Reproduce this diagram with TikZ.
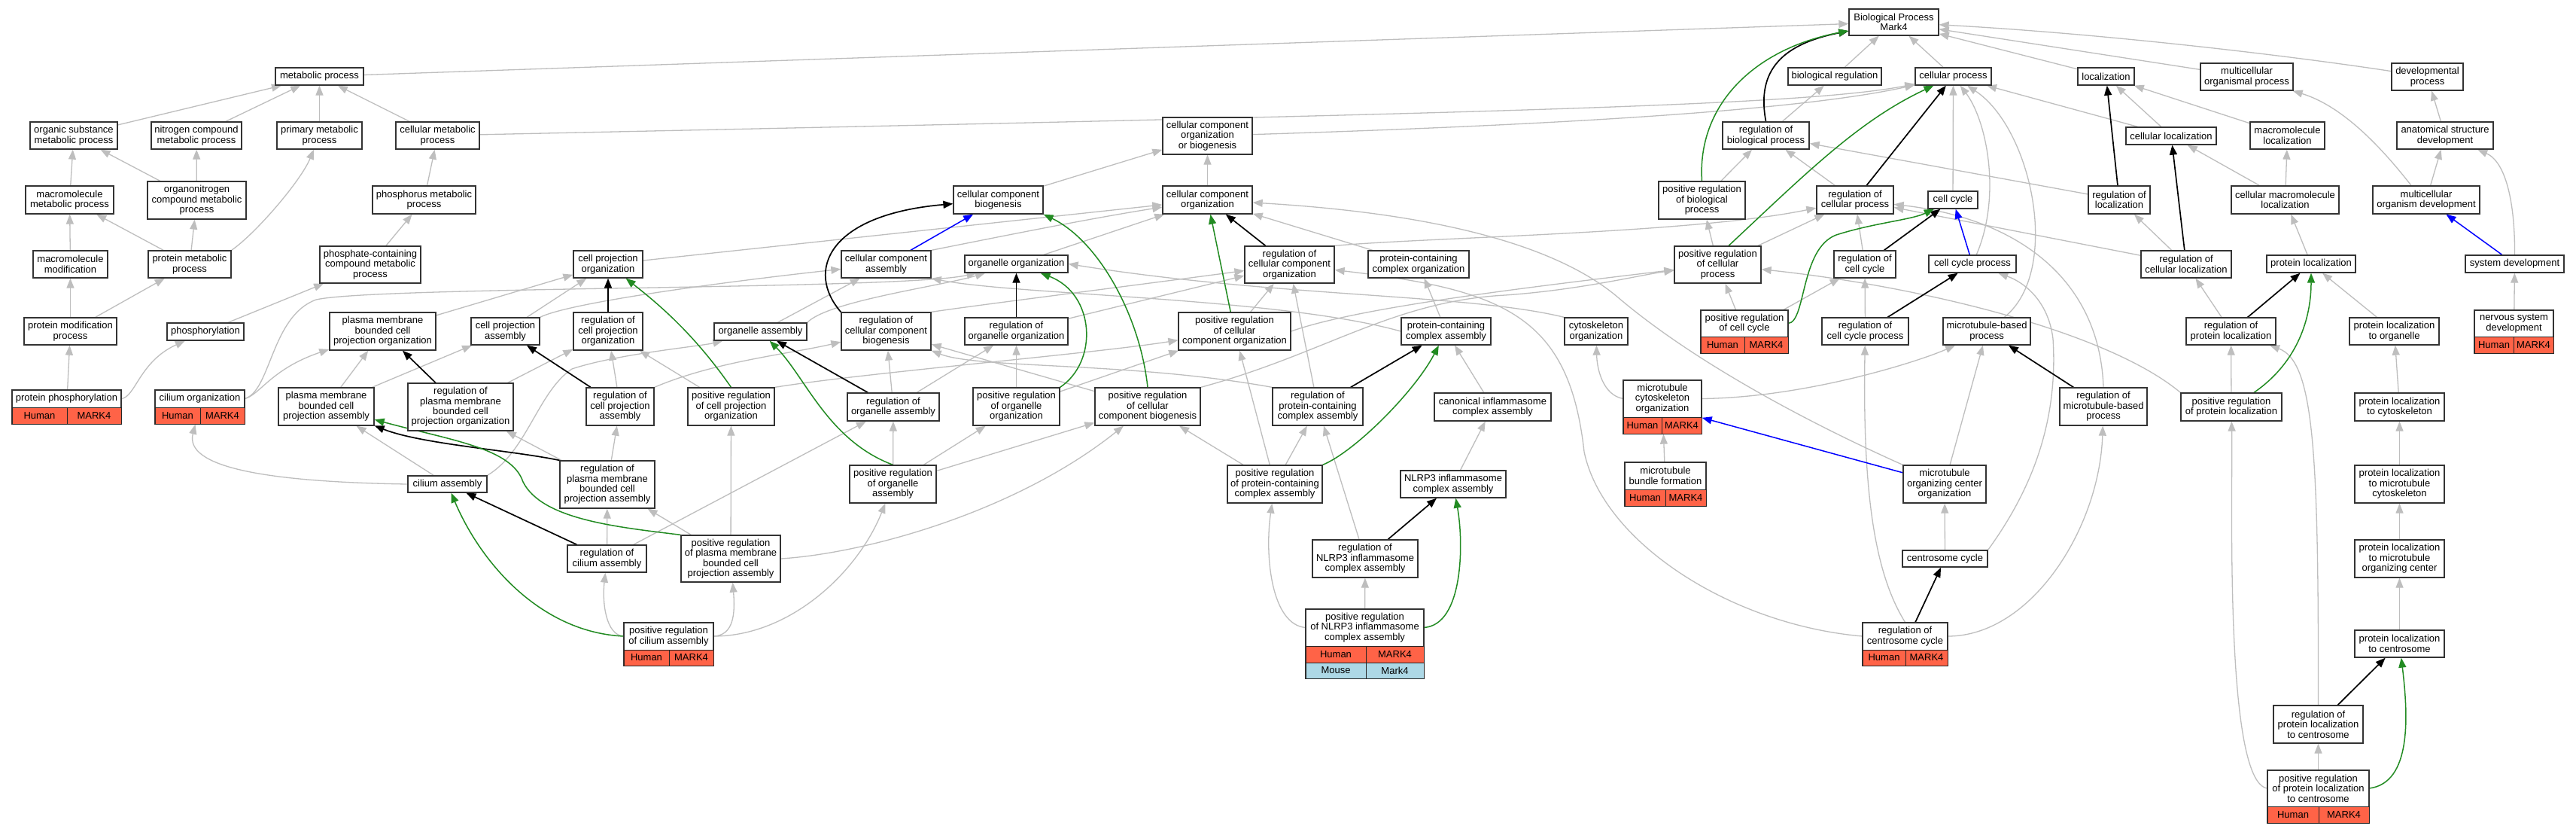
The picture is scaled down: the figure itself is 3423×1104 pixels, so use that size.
\documentclass[tikz,border=0pt]{standalone}
\usepackage{fontspec}
\setmainfont{Liberation Sans}
\usetikzlibrary{arrows.meta}
\pgfdeclarelayer{back}
\pgfdeclarelayer{bg}
\pgfsetlayers{back,bg,main}
\definecolor{isagray}{HTML}{BEBEBE}
\definecolor{posgreen}{HTML}{228B22}
\definecolor{partblue}{HTML}{0000FF}
\definecolor{tomatoc}{HTML}{FF6347}
\definecolor{lbluec}{HTML}{ADD8E6}
\newcommand\gofont{\fontsize{13pt}{13.4pt}\selectfont}
\tikzset{
 gob/.style={draw=black!80, line width=1.3pt, fill=white, inner sep=0pt, align=center, font=\gofont},
 txt/.style={inner sep=0pt, align=center, font=\gofont},
 cellh/.style={draw=black!85, line width=1pt, fill=tomatoc, inner sep=0pt, font=\gofont},
 cellm/.style={draw=black!85, line width=1pt, fill=lbluec, inner sep=0pt, font=\gofont},
 goedge/.style={line width=1.3pt, -{Triangle[length=13pt,width=10pt]}},
 isa/.style={goedge, draw=isagray},
 regedge/.style={goedge, draw=black, line width=1.7pt},
 posedge/.style={goedge, draw=posgreen, line width=1.5pt},
 partedge/.style={goedge, draw=partblue, line width=1.5pt},
}
% name, x1, y1, x2, y2, text
\newcommand\gn[6]{\node[gob, minimum width={#4-#2}, minimum height={#5-#3}] (#1) at ({(#2+#4)/2},{(#3+#5)/2}) {#6};}
% name, x1, y1, x2, ysplit, y2, xsplit, text
\newcommand\sn[8]{%
 \node[gob, minimum width={#4-#2}, minimum height={#6-#3}] (#1) at ({(#2+#4)/2},{(#3+#6)/2}) {};
 \node[txt] (#1-t) at ({(#2+#4)/2},{(#3+#5)/2}) {#8};
 \node[cellh, minimum width={#7-#2}, minimum height={#6-#5}] (#1-h) at ({(#2+#7)/2},{(#5+#6)/2}) {Human};
 \node[cellh, minimum width={#4-#7}, minimum height={#6-#5}] (#1-m) at ({(#7+#4)/2},{(#5+#6)/2}) {MARK4};
 \coordinate (#1-l) at (#2,{(#3+#5)/2});
 \coordinate (#1-r) at (#4,{(#3+#5)/2});
}
\begin{document}
\begin{tikzpicture}[x=1pt,y=-1pt]
\useasboundingbox (0,0) rectangle (3423,1104);
\begin{pgfonlayer}{back}
\fill[white] (0,0) rectangle (3423,1104);
\end{pgfonlayer}
% ---------------- nodes ----------------
\gn{BP}{2457}{12}{2576}{47}{Biological Process\\Mark4}
\gn{met}{366}{90}{483}{113}{metabolic process}
\gn{bioreg}{2376}{90}{2500}{113}{biological regulation}
\gn{cellp}{2545}{90}{2646}{113}{cellular process}
\gn{loc}{2761}{90}{2836}{113}{localization}
\gn{mop}{2924}{84}{3047}{120}{multicellular\\organismal process}
\gn{devp}{3178}{84}{3273}{120}{developmental\\process}
\gn{osmp}{40}{162}{156}{198}{organic substance\\metabolic process}
\gn{ncmp}{201}{162}{321}{198}{nitrogen compound\\metabolic process}
\gn{pmp}{368}{162}{481}{198}{primary metabolic\\process}
\gn{cmp}{526}{162}{637}{198}{cellular metabolic\\process}
\gn{ccob}{1545}{156}{1664}{205}{cellular component\\organization\\or biogenesis}
\gn{regbp}{2289}{162}{2404}{198}{regulation of\\biological process}
\gn{celloc}{2825}{169}{2945}{192}{cellular localization}
\gn{mloc}{2990}{162}{3089}{198}{macromolecule\\localization}
\gn{asd}{3185}{162}{3313}{198}{anatomical structure\\development}
\gn{mmp}{34}{247}{151}{284}{macromolecule\\metabolic process}
\gn{oncmp}{196}{241}{327}{291}{organonitrogen\\compound metabolic\\process}
\gn{phmp}{495}{247}{632}{284}{phosphorus metabolic\\process}
\gn{ccb}{1267}{247}{1386}{284}{cellular component\\biogenesis}
\gn{cco}{1545}{247}{1664}{284}{cellular component\\organization}
\gn{posregbp}{2204}{241}{2319}{291}{positive regulation\\of biological\\process}
\gn{regcp}{2414}{247}{2516}{284}{regulation of\\cellular process}
\gn{cc}{2562}{254}{2628}{277}{cell cycle}
\gn{regloc}{2775}{247}{2857}{284}{regulation of\\localization}
\gn{cmloc}{2965}{247}{3108}{284}{cellular macromolecule\\localization}
\gn{mod}{3153}{247}{3295}{284}{multicellular\\organism development}
\gn{mm}{44}{333}{143}{369}{macromolecule\\modification}
\gn{protmp}{197}{333}{307}{369}{protein metabolic\\process}
\gn{phcmp}{425}{327}{559}{376}{phosphate-containing\\compound metabolic\\process}
\gn{cpo}{762}{333}{854}{369}{cell projection\\organization}
\gn{cca}{1118}{333}{1237}{369}{cellular component\\assembly}
\gn{oo}{1282}{339}{1419}{362}{organelle organization}
\gn{regcco}{1654}{327}{1773}{376}{regulation of\\cellular component\\organization}
\gn{pcco}{1818}{333}{1952}{369}{protein-containing\\complex organization}
\gn{posregcp}{2225}{327}{2340}{376}{positive regulation\\of cellular\\process}
\gn{regcc}{2437}{333}{2519}{369}{regulation of\\cell cycle}
\gn{ccp}{2563}{339}{2679}{362}{cell cycle process}
\gn{regcelloc}{2845}{333}{2965}{369}{regulation of\\cellular localization}
\gn{ploc}{3012}{339}{3130}{362}{protein localization}
\gn{sysdev}{3276}{339}{3407}{362}{system development}
\gn{pmod}{32}{422}{155}{458}{protein modification\\process}
\gn{phos}{222}{429}{324}{452}{phosphorylation}
\gn{pmbcpo}{438}{415}{579}{465}{plasma membrane\\bounded cell\\projection organization}
\gn{cpa}{626}{422}{717}{458}{cell projection\\assembly}
\gn{regcpo}{762}{415}{854}{465}{regulation of\\cell projection\\organization}
\gn{oa}{949}{429}{1072}{452}{organelle assembly}
\gn{regccb}{1118}{415}{1237}{465}{regulation of\\cellular component\\biogenesis}
\gn{regoo}{1282}{422}{1419}{458}{regulation of\\organelle organization}
\gn{posregcco}{1566}{415}{1715}{465}{positive regulation\\of cellular\\component organization}
\gn{pcca}{1862}{422}{1981}{458}{protein-containing\\complex assembly}
\gn{cytoo}{2079}{422}{2163}{458}{cytoskeleton\\organization}
\sn{posregcc}{2260}{412}{2376}{447}{469}{2318}{positive regulation\\of cell cycle}
\gn{regccp}{2421}{422}{2536}{458}{regulation of\\cell cycle process}
\gn{mtbp}{2582}{422}{2698}{458}{microtubule-based\\process}
\gn{regploc}{2905}{422}{3024}{458}{regulation of\\protein localization}
\gn{plocorg}{3122}{422}{3241}{458}{protein localization\\to organelle}
\sn{nsd}{3288}{412}{3393}{447}{469}{3340}{nervous system\\development}
\sn{pphos}{16}{518}{161}{541}{563}{89}{protein phosphorylation}
\sn{cilo}{206}{518}{325}{541}{563}{266}{cilium organization}
\gn{pmbcpa}{370}{515}{497}{565}{plasma membrane\\bounded cell\\projection assembly}
\gn{regpmbcpo}{542}{509}{682}{572}{regulation of\\plasma membrane\\bounded cell\\projection organization}
\gn{regcpa}{779}{515}{869}{565}{regulation of\\cell projection\\assembly}
\gn{posregcpo}{914}{515}{1029}{565}{positive regulation\\of cell projection\\organization}
\gn{regoa}{1126}{522}{1248}{559}{regulation of\\organelle assembly}
\gn{posregoo}{1293}{515}{1408}{565}{positive regulation\\of organelle\\organization}
\gn{posregccb}{1455}{515}{1595}{565}{positive regulation\\of cellular\\component biogenesis}
\gn{regpcca}{1691}{515}{1811}{565}{regulation of\\protein-containing\\complex assembly}
\gn{cica}{1906}{522}{2061}{559}{canonical inflammasome\\complex assembly}
\sn{mtco}{2157}{505}{2261}{554}{576}{2208}{microtubule\\cytoskeleton\\organization}
\gn{regmtbp}{2737}{515}{2853}{565}{regulation of\\microtubule-based\\process}
\gn{posregploc}{2898}{522}{3032}{559}{positive regulation\\of protein localization}
\gn{ploccyto}{3129}{522}{3248}{559}{protein localization\\to cytoskeleton}
\gn{cila}{542}{632}{647}{654}{cilium assembly}
\gn{regpmbcpa}{744}{612}{870}{675}{regulation of\\plasma membrane\\bounded cell\\projection assembly}
\gn{posregoa}{1129}{618}{1244}{668}{positive regulation\\of organelle\\assembly}
\gn{posregpcca}{1631}{618}{1757}{668}{positive regulation\\of protein-containing\\complex assembly}
\gn{nlrp3}{1861}{625}{2001}{661}{NLRP3 inflammasome\\complex assembly}
\sn{mtbf}{2159}{614}{2267}{650}{672}{2213}{microtubule\\bundle formation}
\gn{mtoco}{2529}{618}{2639}{668}{microtubule\\organizing center\\organization}
\gn{plocmtc}{3129}{618}{3248}{668}{protein localization\\to microtubule\\cytoskeleton}
\gn{regcila}{754}{724}{859}{760}{regulation of\\cilium assembly}
\gn{posregpmbcpa}{905}{711}{1037}{773}{positive regulation\\of plasma membrane\\bounded cell\\projection assembly}
\gn{regnlrp3}{1744}{717}{1884}{767}{regulation of\\NLRP3 inflammasome\\complex assembly}
\gn{csc}{2528}{731}{2641}{753}{centrosome cycle}
\gn{plocmtoc}{3129}{717}{3248}{767}{protein localization\\to microtubule\\organizing center}
\sn{posregcila}{829}{827}{948}{863}{884}{889}{positive regulation\\of cilium assembly}
\sn{regcsc}{2475}{827}{2588}{863}{884}{2532}{regulation of\\centrosome cycle}
\gn{ploccs}{3129}{837}{3248}{873}{protein localization\\to centrosome}
\gn{regploccs}{3021}{937}{3140}{987}{regulation of\\protein localization\\to centrosome}
\sn{posregploccs}{3013}{1023}{3148}{1071}{1093}{3081}{positive regulation\\of protein localization\\to centrosome}
% two-species node
\node[gob, minimum width=157, minimum height=92] (posregnlrp3) at (1813.5,855) {};
\node[txt] (posregnlrp3-t) at (1813.5,833.5) {positive regulation\\of NLRP3 inflammasome\\complex assembly};
\node[cellh, minimum width=80, minimum height=22] (posregnlrp3-h) at (1775,869) {Human};
\node[cellh, minimum width=77, minimum height=22] (posregnlrp3-m) at (1853.5,869) {MARK4};
\node[cellm, minimum width=80, minimum height=21] (posregnlrp3-hm) at (1775,890.5) {Mouse};
\node[cellm, minimum width=77, minimum height=21] (posregnlrp3-mm) at (1853.5,890.5) {Mark4};
\coordinate (posregnlrp3-l) at (1735,833.5);
\coordinate (posregnlrp3-r) at (1892,833.5);

% ---------------- edges ----------------
\begin{pgfonlayer}{bg}
% metabolic
\draw[isa] (osmp) -- (met);
\draw[isa] (ncmp) -- (met);
\draw[isa] (pmp) -- (met);
\draw[isa] (cmp) -- (met);
\draw[isa] (mmp) -- (osmp);
\draw[isa] (oncmp) -- (osmp);
\draw[isa] (oncmp) -- (ncmp);
\draw[isa] (mm) -- (mmp);
\draw[isa] (protmp) -- (mmp);
\draw[isa] (protmp) -- (oncmp);
\draw[isa] (protmp.north east) .. controls (340,310) and (400,240) .. (pmp);
\draw[isa] (phmp) -- (cmp);
\draw[isa] (phcmp) -- (phmp);
\draw[isa] (pmod) -- (mm);
\draw[isa] (pmod) -- (protmp);
\draw[isa] (pphos) -- (pmod);
\draw[isa] (pphos-r) .. controls (180,528) and (185,480) .. (phos);
\draw[isa] (phos) -- (phcmp);
% top
\draw[isa] (met) -- (BP);
\draw[isa] (bioreg) -- (BP);
\draw[isa] (cellp) -- (BP);
\draw[isa] (loc) -- (BP);
\draw[isa] (mop) -- (BP);
\draw[isa] (devp) .. controls (3050,75) and (2800,45) .. (BP);
\draw[isa] (cmp) .. controls (2000,150) and (2400,140) .. (cellp);
\draw[isa] (ccob) .. controls (2100,165) and (2400,145) .. (cellp);
\draw[isa] (celloc) -- (cellp);
\draw[isa] (cc) -- (cellp);
\draw[isa] (ccp) .. controls (2660,260) and (2640,160) .. (cellp);
\draw[isa] (mtbp) .. controls (2740,360) and (2700,170) .. (cellp);
\draw[isa] (regbp) -- (bioreg);
\draw[isa] (posregbp) -- (regbp);
\draw[isa] (regcp) -- (regbp);
\draw[isa] (regloc) -- (regbp);
\draw[isa] (celloc) -- (loc);
\draw[isa] (mloc) -- (loc);
\draw[isa] (cmloc) -- (celloc);
\draw[isa] (cmloc) -- (mloc);
\draw[isa] (ploc) -- (cmloc);
\draw[isa] (regcelloc) -- (regloc);
\draw[isa] (regcelloc) -- (regcp);
\draw[isa] (regmtbp.north) .. controls (2790,370) and (2680,290) .. (regcp);
\draw[isa] (posregcp) -- (regcp);
\draw[isa] (posregcp) -- (posregbp);
\draw[isa] (regcc) -- (regcp);
\draw[isa] (posregcc) -- (regcc);
\draw[isa] (posregcc) -- (posregcp);
\draw[isa] (regccp) -- (regcc);
\draw[isa] (mtoco) -- (mtbp);
\draw[isa] (mtco-r) .. controls (2400,528) and (2550,480) .. (mtbp);
\draw[isa] (csc.north east) .. controls (2700,650) and (2735,560) .. (2728,450) .. controls (2722,400) and (2690,375) .. (ccp);
\draw[isa] (mtbf) -- (mtco);
\draw[isa] (mtco-l) .. controls (2130,525) and (2122,490) .. (cytoo);
\draw[isa] (csc) -- (mtoco);
\draw[isa] (regcsc.north) .. controls (2490,760) and (2475,650) .. (regccp);
\draw[isa] (regcsc-r) .. controls (2700,845) and (2790,700) .. (regmtbp);
\draw[isa] (regcsc-l) .. controls (2300,830) and (2130,720) .. (2105,600) .. controls (2085,420) and (2000,385) .. (regcco);
\draw[isa] (mtoco.north west) .. controls (2400,560) and (2250,480) .. (2150,395) .. controls (2050,310) and (1850,280) .. (cco);
\draw[isa] (cytoo.north west) .. controls (1950,390) and (1700,395) .. (oo.east);
\draw[isa] (pcca) -- (pcco);
\draw[isa] (pcca.west) .. controls (1700,395) and (1350,392) .. (cca.south east);
\draw[isa] (pcco) -- (cco);
\draw[isa] (cica) -- (pcca);
\draw[isa] (nlrp3) -- (cica);
\draw[isa] (posregnlrp3) -- (regnlrp3);
\draw[isa] (posregnlrp3-l) .. controls (1690,830) and (1680,740) .. (posregpcca);
\draw[isa] (regnlrp3) -- (regpcca);
\draw[isa] (posregpcca) -- (regpcca);
\draw[isa] (posregpcca) -- (posregccb);
\draw[isa] (posregpcca) -- (posregcco);
\draw[isa] (regpcca) -- (regcco);
\draw[isa] (regpcca.north west) .. controls (1500,480) and (1300,490) .. (regccb.south east);
\draw[isa] (posregccb) -- (regccb);
\draw[isa] (posregccb.north east) .. controls (1760,470) and (1850,400) .. (2000,392) .. controls (2100,385) and (2180,365) .. (posregcp);
\draw[isa] (posregcco.east) .. controls (1800,410) and (2000,385) .. (posregcp);
\draw[isa] (posregcco) -- (regcco);
\draw[isa] (regcco.north east) .. controls (1900,315) and (2250,310) .. (regcp);
\draw[isa] (regoo) -- (regcco);
\draw[isa] (regccb.north east) .. controls (1300,405) and (1500,380) .. (regcco);
\draw[isa] (posregoo) -- (regoo);
\draw[isa] (posregoo) -- (posregcco);
\draw[isa] (regoa) -- (regccb);
\draw[isa] (regoa) -- (regoo);
\draw[isa] (posregoa) -- (regoa);
\draw[isa] (posregoa) -- (posregoo);
\draw[isa] (posregoa) -- (posregccb);
\draw[isa] (oa) -- (cca);
\draw[isa] (oa.north east) .. controls (1100,400) and (1250,380) .. (oo);
\draw[isa] (cca.north east) .. controls (1350,310) and (1450,290) .. (cco);
\draw[isa] (oo) -- (cco);
\draw[isa] (cpo) -- (cco);
\draw[isa] (ccb) -- (ccob);
\draw[isa] (cco) -- (ccob);
\draw[isa] (pmbcpo) -- (cpo);
\draw[isa] (cpa) -- (cpo);
\draw[isa] (cpa.north east) .. controls (760,400) and (1000,370) .. (cca);
\draw[isa] (regcpa) -- (regcpo);
\draw[isa] (regcpa.north east) .. controls (950,480) and (1050,470) .. (regccb);
\draw[isa] (posregcpo) -- (regcpo);
\draw[isa] (posregcpo.north east) .. controls (1150,495) and (1450,470) .. (posregcco);
\draw[isa] (pmbcpa) -- (pmbcpo);
\draw[isa] (pmbcpa) -- (cpa);
\draw[isa] (regpmbcpo) -- (regcpo);
\draw[isa] (cilo-r) .. controls (345,525) and (360,490) .. (pmbcpo);
\draw[isa] (cilo-r) .. controls (360,520) and (360,420) .. (420,398) .. controls (500,380) and (1200,385) .. (oo);
\draw[isa] (cila.west) .. controls (350,640) and (245,620) .. (cilo);
\draw[isa] (cila) -- (pmbcpa);
\draw[isa] (cila.north east) .. controls (700,600) and (715,520) .. (760,490) .. controls (820,470) and (930,460) .. (oa);
\draw[isa] (regpmbcpa) -- (regpmbcpo);
\draw[isa] (regpmbcpa) -- (regcpa);
\draw[isa] (regcila) -- (regpmbcpa);
\draw[isa] (regcila) -- (regoa);
\draw[isa] (posregpmbcpa) -- (regpmbcpa);
\draw[isa] (posregpmbcpa) -- (posregcpo);
\draw[isa] (posregpmbcpa.east) .. controls (1150,735) and (1350,680) .. (posregccb);
\draw[isa] (posregcila-r) .. controls (1050,845) and (1140,760) .. (posregoa);
\draw[isa] (posregcila-l) .. controls (805,844) and (800,800) .. (regcila);
\draw[isa] (posregcila-r) .. controls (975,844) and (977,815) .. (posregpmbcpa);
% right side
\draw[isa] ([xshift=-20pt]mod.north) .. controls (3160,190) and (3110,140) .. (mop);
\draw[isa] (mod) -- (asd);
\draw[isa] (asd) -- (devp);
\draw[isa] (sysdev.north) .. controls (3342,270) and (3330,215) .. (asd);
\draw[isa] (nsd) -- (sysdev);
\draw[isa] (plocorg) -- (ploc);
\draw[isa] (regploc) -- (regcelloc);
\draw[isa] (posregploc) -- (regploc);
\draw[isa] (posregploc.north west) .. controls (2800,440) and (2550,380) .. (posregcp);
\draw[isa] (posregploccs-l) .. controls (2955,1040) and (2967,650) .. (posregploc);
\draw[isa] (regploccs.north) .. controls (3081,600) and (3075,480) .. (regploc);
\draw[isa] (posregploccs) -- (regploccs);
\draw[isa] (ploccs) -- (plocmtoc);
\draw[isa] (plocmtoc) -- (plocmtc);
\draw[isa] (plocmtc) -- (ploccyto);
\draw[isa] (ploccyto) -- (plocorg);
% part_of (blue)
\draw[partedge] (ccp) -- (cc);
\draw[partedge] (mtoco) -- (mtco);
\draw[partedge] (cca) -- (ccb);
\draw[partedge] (sysdev) -- (mod);
% regulates (black)
\draw[regedge] (regbp.north) .. controls (2335,100) and (2360,60) .. (BP);
\draw[regedge] (regcp) -- (cellp);
\draw[regedge] (regloc) -- (loc);
\draw[regedge] (regcelloc) -- (celloc);
\draw[regedge] (regcc) -- (cc);
\draw[regedge] (regccp) -- (ccp);
\draw[regedge] (regmtbp) -- (mtbp);
\draw[regedge] (regcsc) -- (csc);
\draw[regedge] (regnlrp3) -- (nlrp3);
\draw[regedge] (regpcca) -- (pcca);
\draw[regedge] (regcco) -- (cco);
\draw[regedge] (regoo) -- (oo);
\draw[regedge] (regoa) -- (oa);
\draw[regedge] (regccb.north west) .. controls (1070,360) and (1100,285) .. (ccb);
\draw[regedge] (regcpo) -- (cpo);
\draw[regedge] (regcpa) -- (cpa);
\draw[regedge] (regpmbcpo) -- (pmbcpo);
\draw[regedge] (regpmbcpa.north west) .. controls (680,598) and (560,590) .. (pmbcpa);
\draw[regedge] (regcila) -- (cila);
\draw[regedge] (regploc) -- (ploc);
\draw[regedge] (regploccs) -- (ploccs);
% positively regulates (green)
\draw[posedge] (posregbp.north) .. controls (2255,140) and (2330,65) .. (BP);
\draw[posedge] (posregcp.60) .. controls (2400,230) and (2470,160) .. (cellp);
\draw[posedge] (posregcc-r) .. controls (2400,428) and (2392,330) .. (2440,312) .. controls (2490,296) and (2540,292) .. (cc);
\draw[posedge] (posregnlrp3-r) .. controls (1945,830) and (1945,720) .. (nlrp3);
\draw[posedge] (posregpcca.north east) .. controls (1800,600) and (1880,520) .. (pcca);
\draw[posedge] (posregccb.north) .. controls (1515,420) and (1460,320) .. (ccb.south east);
\draw[posedge] (posregcco) -- (cco);
\draw[posedge] (posregoo.north east) .. controls (1460,480) and (1455,390) .. (oo);
\draw[posedge] (posregoa.north) .. controls (1100,585) and (1070,500) .. (oa);
\draw[posedge] (posregcpo.north) .. controls (920,440) and (870,400) .. (cpo);
\draw[posedge] (posregpmbcpa.north west) .. controls (820,700) and (720,690) .. (695,640) .. controls (680,595) and (600,585) .. (pmbcpa);
\draw[posedge] (posregcila-l) .. controls (720,840) and (640,750) .. (cila);
\draw[posedge] ([xshift=30pt]posregploc.north) .. controls (3055,480) and (3071,420) .. (ploc);
\draw[posedge] (posregploccs-r) .. controls (3205,1040) and (3200,950) .. (ploccs);
\end{pgfonlayer}
\end{tikzpicture}
\end{document}
